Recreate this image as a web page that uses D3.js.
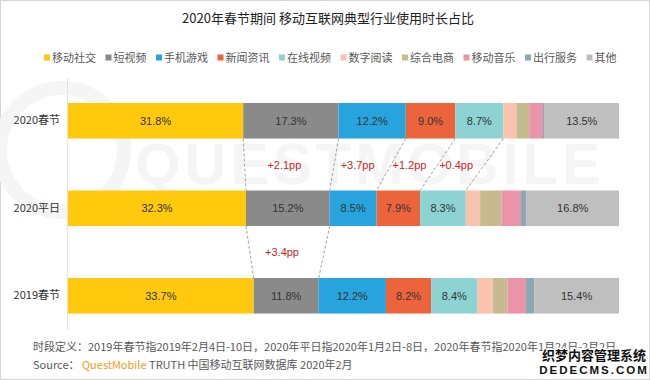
<!DOCTYPE html>
<html>
<head>
<meta charset="utf-8">
<script src="https://cdn.jsdelivr.net/npm/d3@7"></script>
<style>
  body { margin: 0; background: #fff; }
  svg { display: block; }
  text { font-family: "Noto Sans CJK SC", "Liberation Sans", sans-serif; }
  .num { font-family: "Liberation Sans", Arial, sans-serif; }
</style>
</head>
<body>
<div id="chart"></div>
<script>
// categories (rows) and segment series
const periods = ["2020春节", "2020平日", "2019春节"];
const industries = ["移动社交", "短视频", "手机游戏", "新闻资讯", "在线视频", "数字阅读", "综合电商", "移动音乐", "出行服务", "其他"];
const colors = ["#FFC90E", "#8A8A8A", "#27A4DD", "#EB643C", "#8DD3D4", "#FBC2AE", "#C6BB8E", "#E994A8", "#8AA9B6", "#BFBFBF"];

// share of usage time (%) per period, in industry order
const share2020Festival = [31.8, 17.3, 12.2, 9.0, 8.7, 2.4, 2.3, 2.5, 0.3, 13.5];
const share2020Weekday  = [32.3, 15.2, 8.5, 7.9, 8.3, 2.6, 3.9, 3.5, 1.0, 16.8];
const share2019Festival = [33.7, 11.8, 12.2, 8.2, 8.4, 2.8, 2.7, 3.3, 1.5, 15.4];

// change annotations: between rows (from, to), industry index, label
const deltaFrom  = [0, 0, 0, 0, 1];
const deltaTo    = [1, 1, 1, 1, 2];
const deltaIndex = [1, 2, 3, 4, 1];
const deltaText  = ["+2.1pp", "+3.7pp", "+1.2pp", "+0.4pp", "+3.4pp"];

const allShares = [share2020Festival, share2020Weekday, share2019Festival];

const width = 650, height = 380;
const svg = d3.select("#chart").append("svg")
    .attr("width", width)
    .attr("height", height);

// outer frame
svg.append("rect")
    .attr("x", 0.5).attr("y", 0.5)
    .attr("width", width - 1).attr("height", height - 1)
    .attr("fill", "#fff")
    .attr("stroke", "#d6d6d6");

// faint background watermark
svg.append("circle")
    .attr("cx", 62).attr("cy", 150).attr("r", 62)
    .attr("fill", "none").attr("stroke", "#f5f5f5").attr("stroke-width", 14);
svg.append("text")
    .attr("x", 370).attr("y", 184)
    .attr("text-anchor", "middle")
    .attr("class", "num")
    .style("font-size", "58px")
    .style("font-weight", "bold")
    .style("letter-spacing", "4px")
    .attr("fill", "#f5f5f5")
    .text("QUESTMOBILE");

// title
svg.append("text")
    .attr("x", 328).attr("y", 23)
    .attr("text-anchor", "middle")
    .style("font-size", "13px")
    .attr("fill", "#222")
    .text("2020年春节期间 移动互联网典型行业使用时长占比");

// legend
const legend = svg.append("g");
let lx = 44;
industries.forEach((name, i) => {
    const item = legend.append("g").attr("transform", `translate(${lx},58)`);
    item.append("rect")
        .attr("x", 0).attr("y", -3.5)
        .attr("width", 6).attr("height", 6)
        .attr("fill", colors[i]);
    const t = item.append("text")
        .attr("x", 8).attr("y", 4)
        .style("font-size", "11px")
        .attr("fill", "#595959")
        .text(name);
    lx += 8 + t.node().getComputedTextLength() + 9.5;
});

// scales
const x = d3.scaleLinear().domain([0, 100]).range([68, 619]);
const y = d3.scaleBand()
    .domain(periods)
    .range([76.75, 339.8])
    .paddingInner(0.594)
    .paddingOuter(0.3);

// left axis line
svg.append("line")
    .attr("x1", 67.5).attr("x2", 67.5)
    .attr("y1", 78).attr("y2", 330)
    .attr("stroke", "#e3e3e3");

// period labels
svg.append("g")
    .attr("transform", "translate(60,0)")
    .call(d3.axisLeft(y).tickSize(0).tickPadding(0))
    .call(g => g.select(".domain").remove())
    .selectAll("text")
    .style("font-size", "11px")
    .style("font-family", "\"Noto Sans CJK SC\", sans-serif")
    .attr("fill", "#333");

// cumulative starts
const starts = allShares.map(arr => {
    let acc = 0;
    return arr.map(v => { const s = acc; acc += v; return s; });
});

// bars
periods.forEach((p, r) => {
    const row = svg.append("g");
    const segs = allShares[r].map((v, i) => ({ v, i, s: starts[r][i] }));
    row.selectAll("rect")
        .data(segs)
        .enter()
        .append("rect")
        .attr("x", d => x(d.s))
        .attr("y", y(p))
        .attr("width", d => x(d.s + d.v) - x(d.s))
        .attr("height", y.bandwidth())
        .attr("fill", d => colors[d.i]);
    row.selectAll("text")
        .data(segs.filter(d => d.v > 5))
        .enter()
        .append("text")
        .attr("class", "num")
        .attr("x", d => x(d.s + d.v / 2))
        .attr("y", y(p) + y.bandwidth() / 2 + 4)
        .attr("text-anchor", "middle")
        .style("font-size", "11px")
        .attr("fill", "#333")
        .text(d => d.v.toFixed(1) + "%");
});

// dashed connectors between rows
const connectors = [];
deltaText.forEach((t, k) => {
    const a = deltaFrom[k], b = deltaTo[k], i = deltaIndex[k];
    connectors.push({ a, b, i: i - 1 });
    connectors.push({ a, b, i });
});
const uniq = Array.from(new Map(connectors.map(c => [`${c.a}-${c.b}-${c.i}`, c])).values());
svg.append("g")
    .selectAll("line")
    .data(uniq)
    .enter()
    .append("line")
    .attr("x1", d => x(starts[d.a][d.i] + allShares[d.a][d.i]))
    .attr("y1", d => y(periods[d.a]) + y.bandwidth())
    .attr("x2", d => x(starts[d.b][d.i] + allShares[d.b][d.i]))
    .attr("y2", d => y(periods[d.b]))
    .attr("stroke", "#8c8c8c")
    .attr("stroke-width", 0.8)
    .attr("stroke-dasharray", "3,2");

// change labels
svg.append("g")
    .selectAll("text")
    .data(deltaText.map((t, k) => ({ t, a: deltaFrom[k], b: deltaTo[k], i: deltaIndex[k] })))
    .enter()
    .append("text")
    .attr("class", "num")
    .attr("x", d => {
        const endAt = (r, i) => x(starts[r][i] + allShares[r][i]);
        const left = (endAt(d.a, d.i - 1) + endAt(d.b, d.i - 1)) / 2;
        const right = (endAt(d.a, d.i) + endAt(d.b, d.i)) / 2;
        return (left + right) / 2 - 5;
    })
    .attr("y", d => (y(periods[d.a]) + y.bandwidth() + y(periods[d.b])) / 2 + 4)
    .attr("text-anchor", "middle")
    .style("font-size", "11px")
    .attr("fill", "#C8252C")
    .text(d => d.t);

// footer
svg.append("text")
    .attr("x", 33).attr("y", 351)
    .style("font-size", "11px")
    .attr("fill", "#595959")
    .text("时段定义：2019年春节指2019年2月4日-10日，2020年平日指2020年1月2日-8日，2020年春节指2020年1月24日-2月2日");
const src = svg.append("text")
    .attr("x", 33).attr("y", 369)
    .style("font-size", "11px")
    .attr("fill", "#595959");
src.append("tspan").text("Source：  ");
src.append("tspan").attr("fill", "#F0A023").text("QuestMobile");
src.append("tspan").text(" TRUTH 中国移动互联网数据库 2020年2月");

// site stamp in the corner
svg.append("text")
    .attr("x", 594).attr("y", 360)
    .attr("text-anchor", "middle")
    .style("font-size", "13px")
    .style("font-weight", "bold")
    .attr("fill", "#111")
    .attr("stroke", "#fff").attr("stroke-width", 2.5)
    .attr("paint-order", "stroke")
    .text("织梦内容管理系统");
svg.append("text")
    .attr("x", 594).attr("y", 374)
    .attr("text-anchor", "middle")
    .attr("class", "num")
    .style("font-size", "11.5px")
    .style("font-weight", "bold")
    .style("letter-spacing", "2px")
    .attr("fill", "#111")
    .attr("stroke", "#fff").attr("stroke-width", 2.5)
    .attr("paint-order", "stroke")
    .text("DEDECMS.COM");
</script>
</body>
</html>
